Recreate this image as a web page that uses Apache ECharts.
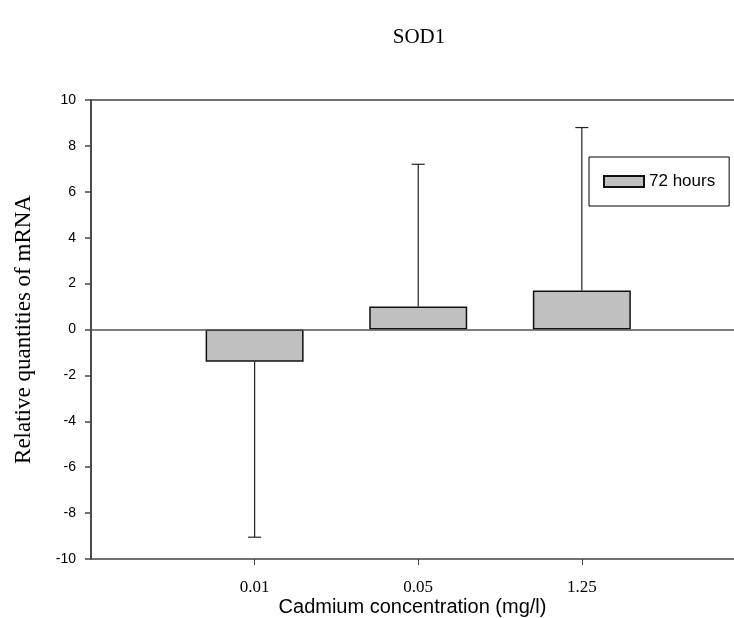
<!DOCTYPE html>
<html>
<head>
<meta charset="utf-8">
<script src="https://cdn.jsdelivr.net/npm/echarts@6/dist/echarts.min.js"></script>
<style>html,body{margin:0;padding:0;background:#fff;}#c{width:734px;height:618px;}</style>
</head>
<body>
<div id="c"></div>
<script>
var categories = ['0.01', '0.05', '1.25'];
var means = [-1.4, 1.0, 1.7];
var errorEnds = [-9.05, 7.2, 8.8];
var seriesName = '72 hours';
var yTicks = [-10, -8, -6, -4, -2, 0, 2, 4, 6, 8, 10];

var barData = categories.map(function (c, i) { return [i + 1, means[i]]; });
var errData = categories.map(function (c, i) { return [i + 1, means[i], errorEnds[i]]; });

var chart = echarts.init(document.getElementById('c'), null, {renderer: 'canvas'});
chart.setOption({
  animation: false,
  backgroundColor: '#fff',
  title: {
    text: 'SOD1', left: 414, top: 22, textAlign: 'center',
    textStyle: {fontFamily: 'Liberation Serif', fontSize: 21, fontWeight: 'normal', color: '#000'}
  },
  legend: {
    left: 589, top: 157,
    data: [{name: seriesName, icon: 'rect'}],
    itemWidth: 40, itemHeight: 11,
    padding: [16, 14, 16, 14],
    borderColor: '#000', borderWidth: 1,
    textStyle: {fontFamily: 'Liberation Sans', fontSize: 17, color: '#000'}
  },
  grid: {left: 91, right: 0, top: 100, bottom: 59, containLabel: false, outerBoundsMode: 'none'},
  xAxis: [{
    type: 'value', min: 0, max: 3.93, interval: 1,
    position: 'bottom',
    splitLine: {show: false},
    axisLine: {show: true, onZero: false, lineStyle: {color: '#444', width: 1.5}},
    axisTick: {show: true, length: 6, customValues: [1, 2, 3], lineStyle: {color: '#444', width: 1}},
    axisLabel: {
      customValues: [1, 2, 3], margin: 20,
      fontFamily: 'Liberation Serif', fontSize: 17, color: '#000',
      formatter: function (v) { return categories[Math.round(v) - 1] || ''; }
    },
    name: 'Cadmium concentration (mg/l)', nameLocation: 'middle', nameGap: 38,
    nameMoveOverlap: false,
    nameTextStyle: {fontFamily: 'Liberation Sans', fontSize: 20, color: '#000'}
  }, {
    type: 'value', min: 0, max: 3.93, position: 'top',
    splitLine: {show: false},
    axisLine: {show: true, onZero: false, lineStyle: {color: '#444', width: 1.5}},
    axisTick: {show: false}, axisLabel: {show: false}
  }],
  yAxis: {
    type: 'value', min: yTicks[0], max: yTicks[yTicks.length - 1], interval: 2,
    splitLine: {show: false},
    axisLine: {show: true, onZero: false, lineStyle: {color: '#111', width: 1.5}},
    axisTick: {show: true, length: 6, lineStyle: {color: '#444', width: 1.5}},
    axisLabel: {margin: 15, fontFamily: 'Liberation Sans', fontSize: 14, color: '#000'},
    name: 'Relative quantities of mRNA', nameLocation: 'middle', nameGap: 56,
    nameMoveOverlap: false,
    nameTextStyle: {fontFamily: 'Liberation Serif', fontSize: 23, color: '#000'}
  },
  series: [{
    name: seriesName,
    type: 'bar',
    data: barData,
    barWidth: 98,
    itemStyle: {color: '#c0c0c0', borderColor: '#111', borderWidth: 1.5},
    markLine: {
      silent: true, symbol: 'none', label: {show: false},
      lineStyle: {color: '#555', width: 1.5, type: 'solid'},
      data: [{yAxis: 0}]
    },
    z: 3
  }, {
    name: 'err',
    type: 'custom',
    data: errData,
    z: 2,
    renderItem: function (params, api) {
      var x = api.value(0);
      var p0 = api.coord([x, api.value(1)]);
      var p1 = api.coord([x, api.value(2)]);
      var cap = 6.5;
      return {
        type: 'group',
        children: [
          {type: 'line', shape: {x1: p0[0], y1: p0[1], x2: p1[0], y2: p1[1]}, style: {stroke: '#222', lineWidth: 1.2}},
          {type: 'line', shape: {x1: p1[0] - cap, y1: p1[1], x2: p1[0] + cap, y2: p1[1]}, style: {stroke: '#222', lineWidth: 1.2}}
        ]
      };
    }
  }]
});
</script>
</body>
</html>
